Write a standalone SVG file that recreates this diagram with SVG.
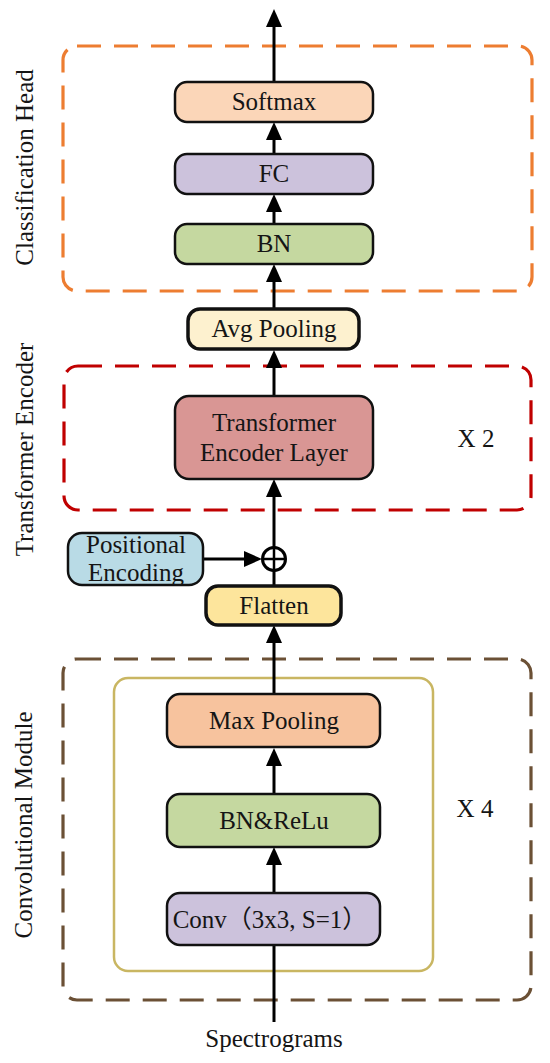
<svg xmlns="http://www.w3.org/2000/svg" width="550" height="1063" viewBox="0 0 550 1063">
<style>
text{font-family:"Liberation Serif","Times New Roman","Noto Sans CJK SC",serif;font-size:25px;fill:#151515;text-anchor:middle}
.box{stroke:#111;stroke-width:2.5}
.thick{stroke:#111;stroke-width:3.5}
.conn{stroke:#000;stroke-width:3;fill:none}
.dash{fill:none;stroke-width:3.2;stroke-dasharray:24 13}
.lab{font-size:25px}
</style>
<defs>
<marker id="ah" markerUnits="userSpaceOnUse" markerWidth="18" markerHeight="16" refX="3" refY="8" orient="auto">
<path d="M0,0 L18,8 L0,16 z" fill="#000"/>
</marker>
</defs>
<rect width="550" height="1063" fill="#fff"/>

<g id="groups">
<rect id="classification-head" x="63" y="46" width="469" height="245" rx="14" class="dash" stroke="#ed7d31"/>
<rect id="transformer-encoder" x="64" y="366" width="467" height="144" rx="14" class="dash" stroke="#c00000"/>
<rect id="convolutional-module" x="63" y="659" width="468" height="341" rx="14" class="dash" stroke="#6b5035"/>
<rect id="conv-block" x="114" y="678" width="319" height="293" rx="14" fill="none" stroke="#c9b662" stroke-width="2.5"/>
</g>

<g id="labels">
<text transform="translate(33,167.5) rotate(-90)">Classification Head</text>
<text transform="translate(33,449.5) rotate(-90)">Transformer Encoder</text>
<text transform="translate(32,825) rotate(-90)">Convolutional Module</text>
<text x="476" y="447">X 2</text>
<text x="475" y="817">X 4</text>
<text x="274" y="1047">Spectrograms</text>
</g>

<g id="connectors">
<path class="conn" d="M274,1022 V945"/>
<path class="conn" d="M274,893 V862" marker-end="url(#ah)"/>
<path class="conn" d="M274,794 V763" marker-end="url(#ah)"/>
<path class="conn" d="M274,694 V640" marker-end="url(#ah)"/>
<path class="conn" d="M274,585 V570"/>
<path class="conn" d="M274,548 V494" marker-end="url(#ah)"/>
<path class="conn" d="M203,559 H247" marker-end="url(#ah)"/>
<path class="conn" d="M274,396 V365" marker-end="url(#ah)"/>
<path class="conn" d="M274,308 V279" marker-end="url(#ah)"/>
<path class="conn" d="M274,224 V209" marker-end="url(#ah)"/>
<path class="conn" d="M274,154 V137" marker-end="url(#ah)"/>
<path class="conn" d="M274,82 V24" marker-end="url(#ah)"/>
</g>

<g id="add">
<circle cx="274" cy="559" r="11.5" fill="#fff" stroke="#000" stroke-width="3"/>
<path d="M262.5,559 H285.5 M274,547.5 V570.5" stroke="#000" stroke-width="2.5"/>
</g>

<g id="softmax">
<rect x="175" y="82" width="198" height="40" rx="12" class="box" fill="#fbd6b8"/>
<text x="274" y="110">Softmax</text>
</g>
<g id="fc">
<rect x="175" y="154" width="198" height="40" rx="12" class="box" fill="#ccc2dc"/>
<text x="274" y="182">FC</text>
</g>
<g id="bn">
<rect x="175" y="224" width="198" height="40" rx="12" class="box" fill="#c5d8a0"/>
<text x="274" y="252">BN</text>
</g>
<g id="avg-pooling">
<rect x="188" y="309" width="171" height="40" rx="12" class="thick" fill="#fdf1cf"/>
<text x="274" y="337">Avg Pooling</text>
</g>
<g id="transformer-layer">
<rect x="175" y="396" width="198" height="83" rx="14" class="box" fill="#d99694"/>
<text x="274" y="431">Transformer</text>
<text x="274" y="461">Encoder Layer</text>
</g>
<g id="positional-encoding">
<rect x="68" y="533" width="135" height="52" rx="14" class="box" fill="#b9dbe6"/>
<text x="136" y="553">Positional</text>
<text x="136" y="581">Encoding</text>
</g>
<g id="flatten">
<rect x="206" y="586" width="135" height="39" rx="12" class="thick" fill="#fde59c"/>
<text x="274" y="614">Flatten</text>
</g>
<g id="max-pooling">
<rect x="167" y="694" width="213" height="53" rx="13" class="box" fill="#f7c39e"/>
<text x="274" y="729">Max Pooling</text>
</g>
<g id="bn-relu">
<rect x="167" y="794" width="213" height="53" rx="13" class="box" fill="#c5d8a0"/>
<text x="274" y="829">BN&amp;ReLu</text>
</g>
<g id="conv">
<rect x="167" y="893" width="213" height="52" rx="13" class="box" fill="#ccc2dc"/>
<text x="270" y="928">Conv（3x3, S=1）</text>
</g>
</svg>
